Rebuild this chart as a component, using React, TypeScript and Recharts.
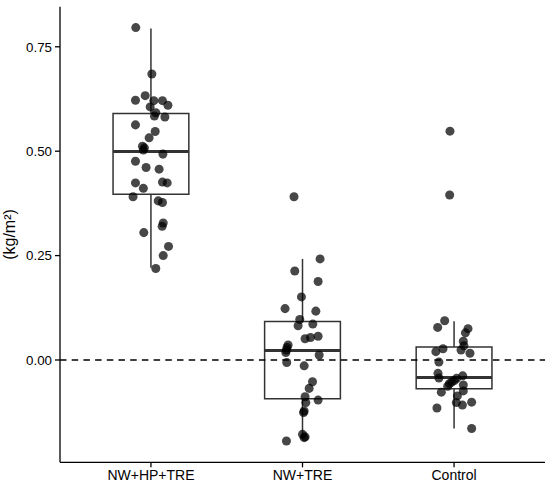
import React from "react";
import {
  ComposedChart,
  Scatter,
  XAxis,
  YAxis,
  ReferenceArea,
  ReferenceLine,
  Label,
} from "recharts";

// Categories (x positions 1, 2, 3)
const categories = ["NW+HP+TRE", "NW+TRE", "Control"];
const xTicks = [1, 2, 3];
const yTicks = [0, 0.25, 0.5, 0.75];

// Box statistics per group: [lowWhisker, q1, median, q3, highWhisker]
const boxLow = [0.221, -0.186, -0.164];
const boxQ1 = [0.397, -0.093, -0.069];
const boxMedian = [0.499, 0.023, -0.042];
const boxQ3 = [0.59, 0.092, 0.031];
const boxHigh = [0.794, 0.242, 0.093];

// Jittered points: horizontal jitter offsets (category units) and values
const g1Jitter = [
  -0.1, 0.006, -0.102, -0.038, 0.019, 0.076, 0.112, -0.005, 0.032, 0.023, 0.092,
  -0.102, 0.028, -0.012, -0.056, -0.043, -0.05, 0.079, -0.102, -0.032, 0.054,
  -0.102, 0.076, 0.107, -0.05, -0.118, 0.048, 0.076, 0.081, 0.074, -0.047, 0.116,
  0.081, 0.032,
];
const g1Values = [
  0.796, 0.685, 0.622, 0.633, 0.621, 0.621, 0.61, 0.606, 0.592, 0.584, 0.582,
  0.563, 0.547, 0.532, 0.512, 0.508, 0.503, 0.493, 0.476, 0.461, 0.457, 0.424,
  0.426, 0.424, 0.411, 0.391, 0.381, 0.377, 0.328, 0.32, 0.305, 0.272, 0.25,
  0.219,
];

const g2Jitter = [
  -0.056, 0.116, -0.051, 0.103, -0.007, -0.115, 0.088, -0.018, -0.029, 0.068,
  0.017, 0.053, 0.103, -0.095, -0.102, -0.106, -0.11, 0.11, -0.104, 0.011, 0.066,
  0.044, 0.017, 0.103, 0.022, 0.011, 0.007, 0.0, 0.017, 0.011, -0.106,
];
const g2Values = [
  0.391, 0.242, 0.213, 0.188, 0.151, 0.123, 0.117, 0.097, 0.082, 0.086, 0.051,
  0.054, 0.057, 0.036, 0.03, 0.024, 0.018, 0.012, -0.006, -0.014, -0.052, -0.068,
  -0.088, -0.096, -0.102, -0.122, -0.126, -0.178, -0.184, -0.186, -0.194,
];

const g3Jitter = [
  -0.027, -0.029, -0.062, -0.108, 0.092, 0.075, 0.061, 0.065, -0.073, 0.046,
  -0.12, 0.105, -0.1, -0.106, -0.1, 0.057, 0.002, 0.017, -0.016, -0.031, -0.042,
  0.061, 0.061, -0.084, 0.022, 0.015, 0.055, 0.116, -0.113, 0.116,
];
const g3Values = [
  0.548, 0.395, 0.094, 0.078, 0.075, 0.065, 0.045, 0.034, 0.027, 0.024, 0.02,
  0.016, -0.005, -0.032, -0.043, -0.038, -0.049, -0.044, -0.053, -0.057, -0.063,
  -0.06, -0.074, -0.077, -0.086, -0.102, -0.108, -0.101, -0.115, -0.164,
];

const groupJitters = [g1Jitter, g2Jitter, g3Jitter];
const groupValues = [g1Values, g2Values, g3Values];

const points = groupValues.flatMap((vals, gi) =>
  vals.map((v, i) => ({ x: gi + 1 + groupJitters[gi][i], y: v }))
);

const BOX_HALF = 0.25;
const BOX_COLOR = "#333333";
const FONT = "'Liberation Sans', Arial, Helvetica, sans-serif";

const YTitle = (props: any) => {
  const vb = props.viewBox || { x: 0, y: 0, width: 60, height: 400 };
  const cx = vb.x + 9;
  const cy = vb.y + vb.height / 2;
  return (
    <text
      x={cx}
      y={cy}
      transform={`rotate(-90, ${cx}, ${cy})`}
      textAnchor="middle"
      dominantBaseline="central"
      fontSize={16}
      fontFamily={FONT}
      fill="#000"
    >
      (kg/m²)
    </text>
  );
};

export default function App() {
  return (
    <div style={{ width: 550, height: 489 }}>
      <style>{"body{margin:0;}"}</style>
      <ComposedChart
        width={550}
        height={489}
        margin={{ top: 6.7, right: 5, bottom: 0, left: 0 }}
        style={{ fontFamily: FONT }}
      >
        <XAxis
          type="number"
          dataKey="x"
          domain={[0.4, 3.6]}
          ticks={xTicks}
          tickFormatter={(v: number) => categories[Math.round(v) - 1] ?? ""}
          height={26.7}
          axisLine={{ stroke: "#000", strokeWidth: 1.3 }}
          tickLine={{ stroke: "#000", strokeWidth: 1.3 }}
          tickSize={5}
          tickMargin={3}
          tick={{ fill: "#000", fontSize: 14, fontFamily: FONT }}
          allowDataOverflow
        />
        <YAxis
          type="number"
          dataKey="y"
          domain={[-0.245, 0.846]}
          ticks={yTicks}
          tickFormatter={(v: number) => v.toFixed(2)}
          width={60}
          axisLine={{ stroke: "#000", strokeWidth: 1.3 }}
          tickLine={{ stroke: "#000", strokeWidth: 1.3 }}
          tickSize={5}
          tickMargin={3}
          tick={{ fill: "#000", fontSize: 13.3, fontFamily: FONT }}
          allowDataOverflow
        >
          <Label content={<YTitle />} />
        </YAxis>

        {categories.map((c, i) => (
          <ReferenceArea
            key={`box-${c}`}
            x1={i + 1 - BOX_HALF}
            x2={i + 1 + BOX_HALF}
            y1={boxQ1[i]}
            y2={boxQ3[i]}
            fill="#ffffff"
            fillOpacity={1}
            stroke={BOX_COLOR}
            strokeWidth={1.5}
            ifOverflow="visible"
          />
        ))}
        {categories.map((c, i) => (
          <ReferenceLine
            key={`wh-${c}`}
            segment={[
              { x: i + 1, y: boxQ3[i] },
              { x: i + 1, y: boxHigh[i] },
            ]}
            stroke={BOX_COLOR}
            strokeWidth={1.5}
            ifOverflow="visible"
          />
        ))}
        {categories.map((c, i) => (
          <ReferenceLine
            key={`wl-${c}`}
            segment={[
              { x: i + 1, y: boxLow[i] },
              { x: i + 1, y: boxQ1[i] },
            ]}
            stroke={BOX_COLOR}
            strokeWidth={1.5}
            ifOverflow="visible"
          />
        ))}
        {categories.map((c, i) => (
          <ReferenceLine
            key={`med-${c}`}
            segment={[
              { x: i + 1 - BOX_HALF, y: boxMedian[i] },
              { x: i + 1 + BOX_HALF, y: boxMedian[i] },
            ]}
            stroke={BOX_COLOR}
            strokeWidth={3}
            ifOverflow="visible"
          />
        ))}
        <ReferenceLine
          y={0}
          stroke="#000"
          strokeWidth={1.5}
          strokeDasharray="6.5 5.2"
        />
        <Scatter
          data={points}
          fill="#000"
          fillOpacity={0.72}
          isAnimationActive={false}
        />
      </ComposedChart>
    </div>
  );
}
